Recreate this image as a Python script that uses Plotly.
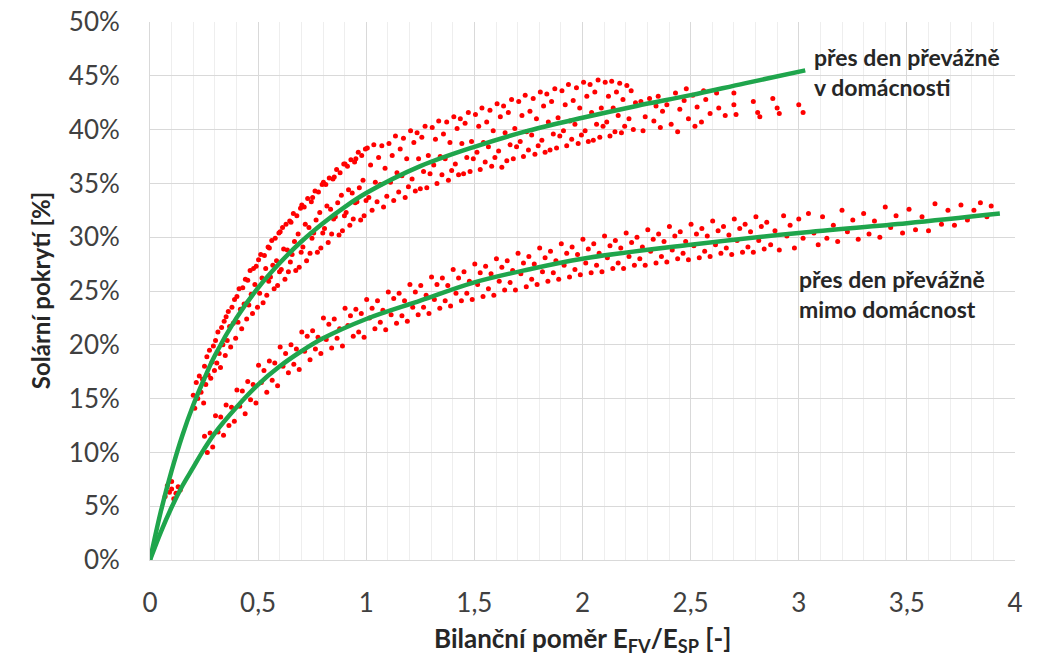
import plotly.graph_objects as go

# ---- data ----
# group "přes den převážně v domácnosti"
dom_x = [0.07,0.08,0.09,0.10,0.11,0.12,0.13,0.14,0.10,
         0.200,0.207,0.214,0.221,0.228,0.236,0.243,0.248,
         0.252,0.258,0.263,0.269,0.275,0.281,0.287,0.293,0.298,
         0.303,0.309,0.314,0.320,0.326,0.331,0.337,0.343,0.348,
         0.352,0.357,0.362,0.368,0.373,0.379,0.385,0.391,0.396,
         0.402,0.407,0.412,0.418,0.424,0.429,0.435,0.441,0.447,
         0.452,0.457,0.463,0.468,0.474,0.479,0.485,0.491,0.497,
         0.502,0.507,0.512,0.518,0.523,0.529,0.535,0.540,0.546,0.549,
         0.552,0.557,0.563,0.568,0.574,0.579,0.585,0.590,0.596,0.599,
         0.602,0.607,0.613,0.618,0.624,0.629,0.635,0.640,0.646,0.649,
         0.652,0.657,0.663,0.668,0.674,0.679,0.685,0.690,0.696,0.699,
         0.702,0.707,0.713,0.718,0.724,0.729,0.735,0.740,0.746,0.749,
         0.752,0.757,0.763,0.768,0.774,0.779,0.785,0.790,0.796,0.799,
         0.802,0.807,0.813,0.818,0.824,0.829,0.835,0.840,0.846,0.849,
         0.852,0.857,0.863,0.868,0.874,0.879,0.885,0.890,0.896,0.899,
         0.902,0.907,0.913,0.918,0.924,0.929,0.935,0.940,0.946,0.949,
         0.952,0.957,0.963,0.968,0.974,0.979,0.985,0.990,0.996,0.999,
         1.005,1.012,1.020,1.027,1.035,1.042,1.050,1.057,1.065,1.072,1.080,1.087,1.095,
         1.105,1.112,1.120,1.127,1.135,1.142,1.150,1.157,1.165,1.172,1.180,1.187,1.195,
         1.205,1.212,1.220,1.227,1.235,1.242,1.250,1.257,1.265,1.272,1.280,1.287,1.295,
         1.305,1.312,1.320,1.327,1.335,1.342,1.350,1.357,1.365,1.372,1.380,1.387,1.395,
         1.405,1.412,1.420,1.427,1.435,1.442,1.450,1.457,1.465,1.472,1.480,1.487,1.495,
         1.505,1.512,1.520,1.527,1.535,1.542,1.550,1.557,1.565,1.572,1.580,1.587,1.595,
         1.605,1.612,1.620,1.627,1.635,1.642,1.650,1.657,1.665,1.672,1.680,1.687,1.695,
         1.705,1.712,1.720,1.727,1.735,1.742,1.750,1.757,1.765,1.772,1.780,1.787,1.795,
         1.805,1.812,1.820,1.827,1.835,1.842,1.850,1.857,1.865,1.872,1.880,1.887,1.895,
         1.905,1.912,1.920,1.927,1.935,1.942,1.950,1.957,1.965,1.972,1.980,1.987,1.995,
         2.005,2.012,2.020,2.027,2.035,2.042,2.050,2.057,2.065,2.072,2.080,2.087,2.095,
         2.105,2.112,2.120,2.127,2.135,2.142,2.150,2.157,2.165,2.172,2.180,2.187,2.195,
         2.205,2.215,2.225,2.235,2.245,
         2.27,2.29,2.31,2.33,2.35,2.37,2.39,2.41,2.43,2.45,2.47,2.49,2.51,2.53,2.55,2.57,2.59,
         2.28,2.36,2.44,2.52,2.34,2.48,2.56,
         2.62,2.63,2.66,2.70,2.70,2.71,2.79,2.81,2.82,2.88,2.90,2.91,3.00,3.02]
dom_y = [5.9,6.9,6.3,7.3,5.7,6.2,6.8,6.5,6.6,
         15.3,14.1,16.5,15.0,17.1,15.6,16.8,14.6,
         18.0,16.3,18.9,17.2,19.5,16.9,18.4,19.9,17.6,
         20.4,18.3,21.2,19.2,17.9,21.6,20.0,22.2,19.0,
         22.6,20.4,23.1,21.7,19.8,23.5,22.0,24.2,20.6,
         24.5,22.1,25.2,23.3,21.5,25.3,23.8,26.1,22.4,
         26.0,23.7,26.9,24.7,22.9,27.1,25.6,27.3,23.5,
         27.9,24.8,28.4,26.2,23.9,28.3,27.1,24.6,29.1,25.9,
         29.0,26.3,29.7,27.4,25.2,29.9,27.8,25.5,30.4,26.8,
         30.5,27.0,30.9,28.9,26.1,31.2,28.8,26.8,31.5,27.7,
         31.4,28.4,32.2,29.6,26.9,32.0,30.3,27.2,32.7,28.6,
         33.0,29.1,32.8,31.2,27.8,33.6,30.9,28.5,33.3,29.9,
         33.7,30.4,34.3,31.6,28.6,34.2,32.3,29.0,34.9,30.4,
         35.1,30.8,34.9,32.9,29.5,35.5,32.6,30.3,35.4,31.7,
         35.6,31.9,36.3,33.2,30.2,36.0,33.9,30.6,36.8,32.0,
         36.8,32.3,36.6,34.4,31.1,37.2,34.1,31.7,37.0,33.2,
         37.3,33.3,37.9,34.6,31.6,37.6,35.3,32.0,38.2,33.4,
         38.3,33.7,36.7,32.5,38.6,35.1,33.3,37.4,34.9,38.5,32.8,36.4,33.8,
         38.7,35.1,37.6,33.4,39.4,36.0,34.2,38.2,35.7,39.2,33.7,37.3,34.7,
         39.9,35.4,38.8,34.3,39.7,37.3,34.5,39.3,36.1,40.3,34.6,37.6,35.9,
         40.2,36.7,39.1,35.0,40.8,37.5,35.8,39.6,37.3,40.7,35.3,38.8,36.2,
         41.2,36.8,40.1,35.8,41.0,38.7,35.9,40.6,37.4,41.6,36.1,38.9,37.3,
         41.4,37.9,40.3,36.3,42.0,38.8,37.0,40.7,38.4,41.8,36.6,39.9,37.4,
         42.4,38.0,41.2,36.5,42.2,39.7,37.1,41.6,38.6,42.8,37.3,40.1,38.4,
         42.6,38.9,41.3,37.5,43.2,39.8,38.1,41.7,39.5,42.9,37.7,41.0,38.5,
         43.5,39.0,42.2,37.9,43.3,40.7,38.1,42.6,39.6,43.8,38.3,41.1,39.4,
         43.6,39.9,42.3,38.5,44.2,40.8,39.1,42.7,40.5,43.9,38.7,42.0,39.5,
         44.4,39.9,43.1,38.9,44.2,41.6,39.0,43.5,40.5,44.6,39.3,42.0,40.3,
         44.4,40.7,43.1,39.4,44.5,42.0,39.8,43.5,41.3,44.3,39.7,42.8,40.3,
         44.1,41.0,43.6,40.0,42.5,
         42.6,41.2,42.9,40.8,43.1,41.7,42.3,40.5,43.4,41.9,42.7,41.0,43.2,42.1,40.7,42.8,41.5,
         39.9,40.2,39.8,40.3,42.2,43.8,43.6,
         43.4,42.0,41.3,43.4,42.3,41.4,42.6,41.6,41.2,42.9,42.0,41.5,42.3,41.6]

# group "přes den převážně mimo domácnost"
mimo_x = [0.252,0.265,0.278,0.290,0.303,0.315,0.327,0.340,
          0.352,0.365,0.377,0.390,0.402,0.415,0.427,0.440,
          0.452,0.465,0.477,0.490,0.502,0.515,0.527,0.540,
          0.552,0.565,0.577,0.590,0.602,0.615,0.627,0.640,
          0.652,0.665,0.677,0.690,0.702,0.715,0.727,0.740,
          0.752,0.765,0.777,0.790,0.802,0.815,0.827,0.840,
          0.852,0.865,0.877,0.890,0.902,0.915,0.927,0.940,
          0.952,0.965,0.977,0.990,1.002,1.015,1.027,1.040,
          1.052,1.065,1.077,1.090,1.102,1.115,1.127,1.140,
          1.152,1.165,1.177,1.190,1.202,1.215,1.227,1.240,
          1.252,1.265,1.277,1.290,1.302,1.315,1.327,1.340,
          1.352,1.365,1.377,1.390,1.402,1.415,1.427,1.440,
          1.452,1.465,1.477,1.490,1.502,1.515,1.527,1.540,
          1.552,1.565,1.577,1.590,1.602,1.615,1.627,1.640,
          1.652,1.665,1.677,1.690,1.702,1.715,1.727,1.740,
          1.752,1.765,1.777,1.790,1.802,1.815,1.827,1.840,
          1.852,1.865,1.877,1.890,1.902,1.915,1.927,1.940,
          1.952,1.965,1.977,1.990,2.002,2.015,2.027,2.040,
          2.052,2.065,2.077,2.090,2.102,2.115,2.127,2.140,
          2.152,2.165,2.177,2.190,2.202,2.215,2.227,2.240,
          2.252,2.265,2.277,2.290,2.302,2.315,2.327,2.340,
          2.352,2.365,2.377,2.390,2.402,2.415,2.427,2.440,
          2.452,2.465,2.477,2.490,2.502,2.515,2.527,2.540,
          2.552,2.565,2.577,2.590,2.602,2.615,2.627,2.640,
          2.652,2.665,2.677,2.690,2.702,2.715,2.727,2.740,
          2.752,2.765,2.777,2.790,2.802,2.815,2.827,2.840,
          2.852,2.870,2.890,2.910,2.930,2.945,
          2.960,2.980,3.000,3.020,3.045,3.070,3.090,
          3.110,3.130,3.160,3.180,3.200,3.225,3.250,3.275,
          3.300,3.325,3.350,3.375,3.400,3.425,3.450,3.480,
          3.510,3.540,3.570,3.600,3.630,3.660,3.690,
          3.720,3.750,3.780,3.810,3.840,3.870,3.890]
mimo_y = [11.5,10.0,11.8,10.5,13.4,11.9,13.3,11.6,
          14.4,12.5,14.2,12.9,15.8,14.3,15.7,13.6,
          16.6,14.9,16.3,14.6,18.1,16.5,17.6,15.6,
          18.5,16.7,18.3,16.2,19.8,18.0,19.2,17.4,
          20.0,18.2,19.6,17.7,21.2,19.4,20.8,18.6,
          21.3,19.6,20.7,19.2,22.5,20.5,21.9,19.7,
          22.4,20.6,21.5,19.9,23.4,21.8,22.7,20.8,
          23.3,21.2,22.9,20.7,24.2,22.5,23.4,21.5,
          24.1,22.1,23.2,21.4,24.9,22.8,24.3,22.0,
          24.8,22.7,24.1,22.2,25.6,23.5,24.9,22.8,
          25.5,23.5,24.6,22.9,26.3,24.2,25.6,23.4,
          26.2,24.1,25.5,23.6,27.0,24.8,26.2,24.1,
          26.8,24.8,25.9,24.2,27.5,25.6,26.7,24.5,
          27.3,25.2,26.6,24.6,28.0,25.9,27.2,25.1,
          27.8,25.8,26.9,25.1,28.5,26.6,27.6,25.4,
          28.2,26.1,27.5,25.6,29.0,26.8,28.1,25.9,
          28.7,26.7,27.8,26.1,29.4,27.4,28.5,26.3,
          29.1,27.0,28.4,26.5,29.8,27.6,28.9,26.7,
          29.4,27.4,28.5,26.8,30.1,28.1,29.2,27.1,
          29.7,27.6,29.0,27.1,30.4,28.2,29.5,27.4,
          30.0,28.0,29.1,27.4,30.7,28.7,29.8,27.6,
          30.3,28.2,29.6,27.7,31.0,28.8,30.1,28.0,
          30.5,28.5,29.6,27.9,31.2,29.2,30.3,28.1,
          30.8,28.7,30.1,28.2,31.5,29.3,30.6,28.5,
          31.0,29.0,30.2,28.4,31.7,29.7,30.8,28.6,
          31.2,29.1,30.5,28.6,31.9,29.7,31.0,28.9,
          31.4,29.3,30.6,28.8,32.0,30.1,
          31.1,29.0,31.7,29.9,32.2,30.4,29.3,
          31.9,29.9,31.1,29.6,32.5,30.5,31.6,29.8,
          32.2,30.3,31.5,30.0,32.8,30.9,32.0,30.4,
          32.6,30.7,31.9,30.6,33.1,31.2,32.5,
          31.1,33.0,31.6,32.5,33.2,31.9,32.9]

# fitted trend curves
fit_dom_x = [0, 0.05, 0.1, 0.15, 0.2, 0.25, 0.3, 0.4, 0.5, 0.6, 0.7, 0.8, 0.9, 1.0,
             1.25, 1.5, 1.75, 2.0, 2.25, 2.5, 2.75, 3.03]
fit_dom_y = [0, 4.5, 8.3, 11.6, 14.4, 16.8, 19.0, 22.5, 25.3, 27.6, 29.6, 31.3, 32.8, 34.1,
             36.6, 38.4, 39.9, 41.1, 42.2, 43.2, 44.3, 45.5]
fit_mimo_x = [0, 0.05, 0.1, 0.15, 0.2, 0.25, 0.3, 0.4, 0.5, 0.6, 0.7, 0.8, 1.0, 1.25, 1.5, 1.75,
              2.0, 2.5, 3.0, 3.5, 3.93]
fit_mimo_y = [0, 2.6, 4.9, 6.9, 8.6, 10.3, 11.8, 14.2, 16.3, 18.0, 19.4, 20.6, 22.4, 24.1, 25.8, 27.0,
              28.0, 29.3, 30.4, 31.3, 32.2]

x_ticks = [0, 0.5, 1, 1.5, 2, 2.5, 3, 3.5, 4]
x_tick_text = ["0", "0,5", "1", "1,5", "2", "2,5", "3", "3,5", "4"]
y_ticks = [0, 5, 10, 15, 20, 25, 30, 35, 40, 45, 50]
y_tick_text = [f"{v}%" for v in y_ticks]

FONT = "Lato"
RED = "#FF0000"
GREEN = "#1FA54C"

fig = go.Figure()
fig.add_trace(go.Scatter(x=dom_x, y=dom_y, mode="markers",
                         marker=dict(color=RED, size=5), showlegend=False))
fig.add_trace(go.Scatter(x=mimo_x, y=mimo_y, mode="markers",
                         marker=dict(color=RED, size=5), showlegend=False))
fig.add_trace(go.Scatter(x=fit_dom_x, y=fit_dom_y, mode="lines",
                         line=dict(color=GREEN, width=4.5, shape="spline"), showlegend=False))
fig.add_trace(go.Scatter(x=fit_mimo_x, y=fit_mimo_y, mode="lines",
                         line=dict(color=GREEN, width=4.5, shape="spline"), showlegend=False))

fig.update_xaxes(range=[0, 4], tickvals=x_ticks, ticktext=x_tick_text,
                 showgrid=True, gridcolor="#D9D9D9", gridwidth=1,
                 minor=dict(dtick=0.1, showgrid=True, gridcolor="#EEEEEE", gridwidth=1),
                 showline=True, linecolor="#D9D9D9", linewidth=1, mirror=False,
                 zeroline=False, ticks="", ticklabelstandoff=20, automargin=False,
                 ticklabeloverflow="allow",
                 tickfont=dict(family=FONT, size=26, color="#404040"))
fig.update_yaxes(range=[0, 50], tickvals=y_ticks, ticktext=y_tick_text,
                 showgrid=True, gridcolor="#D9D9D9", gridwidth=1,
                 showline=True, linecolor="#D9D9D9", linewidth=1,
                 zeroline=False, ticks="", ticklabelstandoff=24, automargin=False,
                 ticklabeloverflow="allow",
                 tickfont=dict(family=FONT, size=26, color="#404040"))

fig.update_layout(
    width=1041, height=656,
    margin=dict(l=150, r=26, t=22, b=96),
    paper_bgcolor="white", plot_bgcolor="white",
    font=dict(family=FONT, color="#262626"),
    annotations=[
        dict(x=3.06, y=45.4, xref="x", yref="y", xanchor="left", yanchor="middle", align="left",
             text="<b>přes den převážně<br>v domácnosti</b>", showarrow=False,
             font=dict(family=FONT, size=23, color="#262626")),
        dict(x=2.99, y=24.7, xref="x", yref="y", xanchor="left", yanchor="middle", align="left",
             text="<b>přes den převážně<br>mimo domácnost</b>", showarrow=False,
             font=dict(family=FONT, size=23, color="#262626")),
        dict(x=0.5, y=-0.147, xref="paper", yref="paper", xanchor="center", yanchor="middle",
             text="<b>Bilanční poměr E<sub>FV</sub>/E<sub>SP</sub> [-]</b>", showarrow=False,
             font=dict(family=FONT, size=26, color="#262626")),
        dict(x=-0.127, y=0.5, xref="paper", yref="paper", xanchor="center", yanchor="middle",
             text="<b>Solární pokrytí [%]</b>", showarrow=False, textangle=-90,
             font=dict(family=FONT, size=24, color="#262626")),
    ],
)

# remove the default page margin so the figure fills the window exactly
fig.write_html("out.html", config={"displayModeBar": False},
               post_script="document.body.style.margin='0';document.body.style.overflow='hidden';")
